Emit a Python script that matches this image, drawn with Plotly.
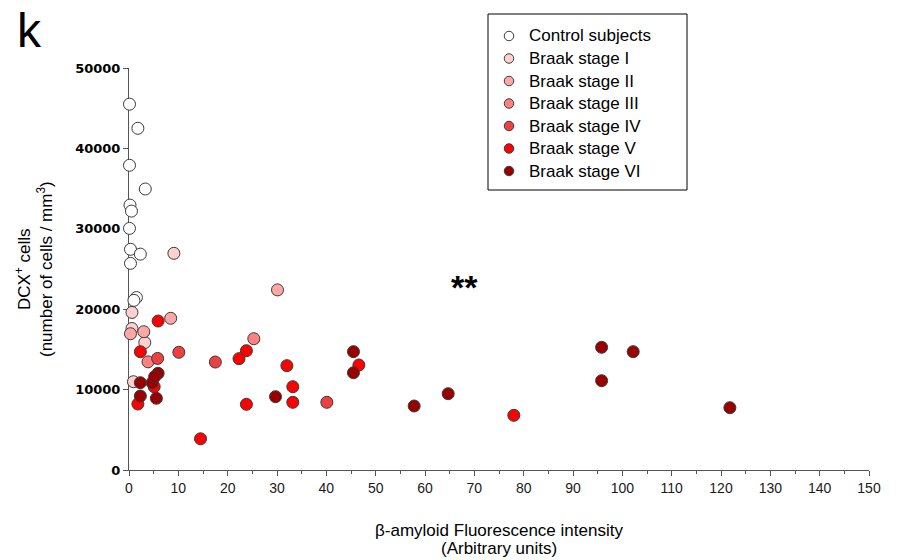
import plotly.graph_objects as go

# ---- data ----
ctrl_x = [0.1, 1.8, 0.1, 3.3, 0.2, 0.5, 0.1, 0.3, 2.3, 0.3, 1.5, 1.0]
ctrl_y = [45500, 42500, 37900, 34950, 32950, 32200, 30050, 27450, 26850, 25700, 21450, 21100]

b1_x = [9.1, 0.6, 0.6, 3.2, 0.9]
b1_y = [26950, 19600, 17600, 15850, 10980]

b2_x = [30.1, 8.45, 0.3, 3.0]
b2_y = [22400, 18870, 16950, 17200]

b3_x = [3.85, 25.3]
b3_y = [13450, 16330]

b4_x = [10.1, 5.8, 17.5, 40.1]
b4_y = [14640, 13880, 13430, 8420]

b5_x = [5.9, 2.3, 5.1, 1.8, 23.8, 22.3, 32.0, 46.6, 33.2, 33.2, 23.8, 14.5, 78.0]
b5_y = [18530, 14710, 10360, 8210, 14840, 13850, 12980, 13060, 10360, 8420, 8170, 3880, 6800]

b6_x = [2.3, 4.7, 5.9, 5.2, 2.3, 5.55, 29.7, 45.5, 45.5, 57.8, 64.7, 95.8, 102.2, 95.8, 121.8]
b6_y = [10860, 10860, 12030, 11600, 9200, 8920, 9120, 14720, 12100, 7960, 9490, 15260, 14720, 11110, 7750]

group_names = ["Control subjects", "Braak stage I", "Braak stage II", "Braak stage III",
               "Braak stage IV", "Braak stage V", "Braak stage VI"]
group_colors = ["#FFFFFF", "#FFD0D0", "#FFA6A6", "#FF8080", "#EE4040", "#FF0000", "#990000"]
group_x = [ctrl_x, b1_x, b2_x, b3_x, b4_x, b5_x, b6_x]
group_y = [ctrl_y, b1_y, b2_y, b3_y, b4_y, b5_y, b6_y]

x_ticks = list(range(0, 151, 10))
y_ticks = [0, 10000, 20000, 30000, 40000, 50000]

# plot-area geometry (pixels)
L, R, T, B = 129, 31, 68, 90
W, H = 900, 560
PW, PH = W - L - R, H - T - B


def px_x(px):
    return (px - L) / PW


def px_y(py):
    return (H - B - py) / PH


fig = go.Figure()
for name, col, xs, ys in zip(group_names, group_colors, group_x, group_y):
    fig.add_trace(go.Scatter(
        x=xs, y=ys, mode="markers", name=name, showlegend=False, cliponaxis=False,
        marker=dict(size=12, color=col, line=dict(color="#3a3a3a", width=1)),
    ))

fig.update_layout(
    width=W, height=H,
    margin=dict(l=L, r=R, t=T, b=B),
    paper_bgcolor="white", plot_bgcolor="white",
    font=dict(family="Liberation Sans, Arial, sans-serif", color="#000"),
    showlegend=False,
    xaxis=dict(
        range=[0, 150], tickvals=x_ticks, ticktext=[str(v) for v in x_ticks],
        showgrid=False, zeroline=False, showline=True, linecolor="#555", linewidth=1,
        ticks="outside", ticklen=5, tickcolor="#555", tickwidth=1,
        minor=dict(ticks="outside", ticklen=3, dtick=5, tickcolor="#555", showgrid=False),
        tickfont=dict(size=14, family="Liberation Sans, Arial, sans-serif", color="#1a1a1a"),
        layer="below traces",
    ),
    yaxis=dict(
        range=[0, 50000], tickvals=y_ticks, ticktext=[str(v) for v in y_ticks],
        showgrid=False, zeroline=False, showline=True, linecolor="#555", linewidth=1,
        ticks="outside", ticklen=5, tickcolor="#555", tickwidth=1,
        tickfont=dict(size=13, family="DejaVu Sans", color="#000", weight="bold"),
        layer="below traces",
    ),
)

ann = []
shapes = []
ann.append(dict(text="DCX<sup>+</sup> cells", x=px_x(23), y=0.5, xref="paper", yref="paper",
                textangle=-90, showarrow=False, xanchor="center", yanchor="middle",
                font=dict(size=17, color="#000")))
ann.append(dict(text="(number of cells / mm<sup>3</sup>)", x=px_x(45), y=0.5, xref="paper", yref="paper",
                textangle=-90, showarrow=False, xanchor="center", yanchor="middle",
                font=dict(size=17, color="#000")))
ann.append(dict(text="β-amyloid Fluorescence intensity", x=0.5, y=px_y(530), xref="paper", yref="paper",
                showarrow=False, xanchor="center", yanchor="middle", font=dict(size=17, color="#000")))
ann.append(dict(text="(Arbitrary units)", x=0.5, y=px_y(548), xref="paper", yref="paper",
                showarrow=False, xanchor="center", yanchor="middle", font=dict(size=17, color="#000")))
ann.append(dict(text="k", x=px_x(15), y=px_y(2), xref="paper", yref="paper",
                showarrow=False, xanchor="left", yanchor="top", font=dict(size=48, color="#000")))
ann.append(dict(text="<b>**</b>", x=px_x(464), y=px_y(287), xref="paper", yref="paper",
                showarrow=False, xanchor="center", yanchor="middle", font=dict(size=34, color="#000")))

# legend drawn as a box with symbols and labels
shapes.append(dict(type="rect", xref="paper", yref="paper",
                   x0=px_x(488), x1=px_x(687), y0=px_y(190), y1=px_y(14),
                   line=dict(color="#000", width=1), fillcolor="white", layer="above"))
row_y = [36, 58.5, 81, 103.5, 126, 148.5, 171]
for name, col, ry in zip(group_names, group_colors, row_y):
    shapes.append(dict(type="circle", xref="paper", yref="paper",
                       xsizemode="pixel", ysizemode="pixel",
                       xanchor=px_x(509), yanchor=px_y(ry),
                       x0=-4.75, x1=4.75, y0=-4.75, y1=4.75,
                       line=dict(color="#3a3a3a", width=1), fillcolor=col, layer="above"))
    ann.append(dict(text=name, x=px_x(527), y=px_y(ry), xref="paper", yref="paper",
                    showarrow=False, xanchor="left", yanchor="middle",
                    font=dict(size=17, color="#000")))

fig.update_layout(annotations=ann, shapes=shapes)

fig.write_html("out.html")
